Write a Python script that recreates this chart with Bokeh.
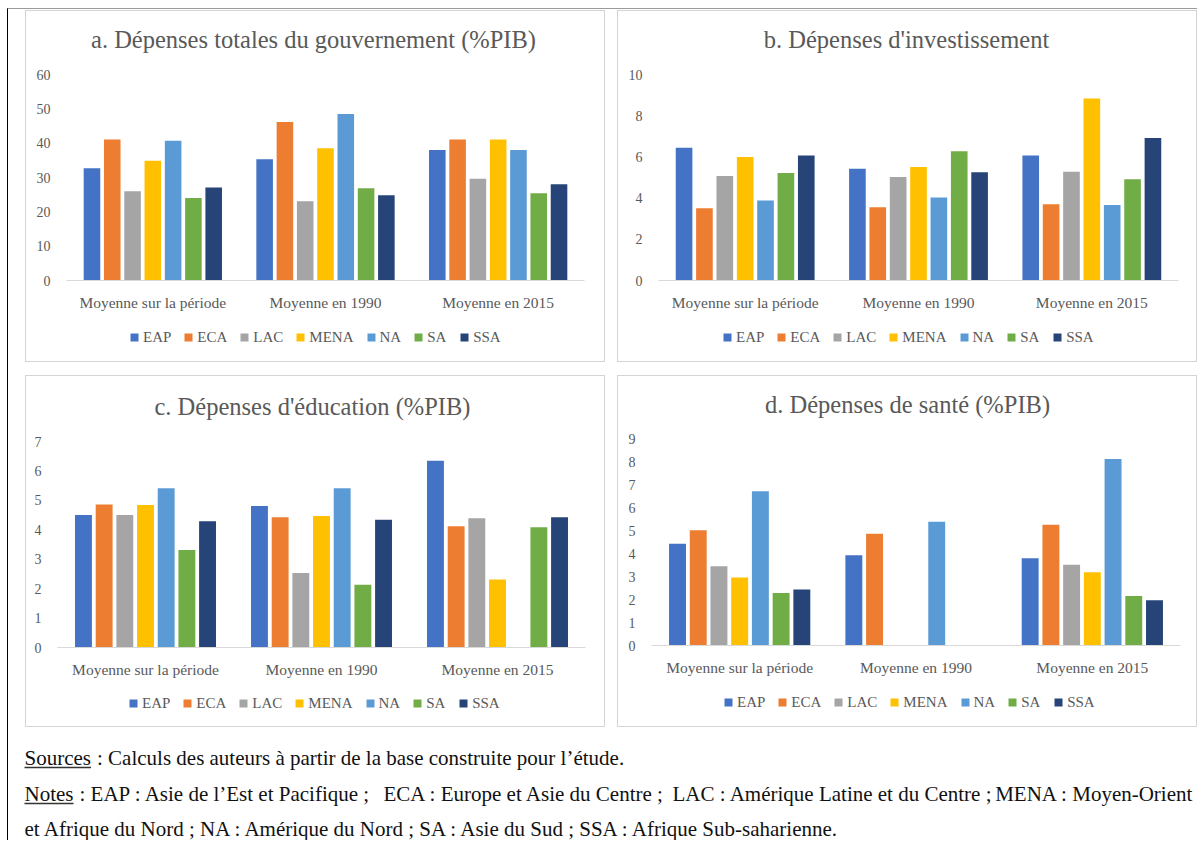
import numpy as np
from bokeh.plotting import figure
from bokeh.models import (ColumnDataSource, FactorRange, Range1d, FixedTicker,
                          Legend, LegendItem, Label, Spacer)
from bokeh.layouts import row, column
from bokeh.transform import dodge
from bokeh.embed import file_html
from bokeh.resources import INLINE

# ---------------- data ----------------
categories = ["Moyenne sur la période", "Moyenne en 1990", "Moyenne en 2015"]
regions = ["EAP", "ECA", "LAC", "MENA", "NA", "SA", "SSA"]
region_colors = ["#4472C4", "#ED7D31", "#A5A5A5", "#FFC000", "#5B9BD5", "#70AD47", "#264478"]

NAN = float("nan")

# a. Dépenses totales du gouvernement (%PIB)  -- values in region order
totales_periode = [32.7, 41.1, 26.0, 34.9, 40.7, 24.0, 27.1]
totales_1990 = [35.3, 46.2, 23.1, 38.5, 48.5, 26.9, 24.8]
totales_2015 = [38.0, 41.1, 29.6, 41.1, 38.0, 25.4, 28.0]

# b. Dépenses d'investissement
invest_periode = [6.44, 3.51, 5.07, 5.99, 3.88, 5.22, 6.07]
invest_1990 = [5.43, 3.56, 5.02, 5.51, 4.03, 6.28, 5.25]
invest_2015 = [6.07, 3.70, 5.28, 8.84, 3.66, 4.91, 6.92]

# c. Dépenses d'éducation (%PIB)
educ_periode = [4.50, 4.86, 4.50, 4.84, 5.41, 3.31, 4.29]
educ_1990 = [4.81, 4.43, 2.53, 4.47, 5.41, 2.13, 4.34]
educ_2015 = [6.35, 4.12, 4.39, 2.31, NAN, 4.09, 4.43]

# d. Dépenses de santé (%PIB)
sante_periode = [4.42, 5.01, 3.45, 2.96, 6.71, 2.28, 2.43]
sante_1990 = [3.92, 4.86, NAN, NAN, 5.38, NAN, NAN]
sante_2015 = [3.79, 5.25, 3.51, 3.19, 8.11, 2.15, 1.97]

titles = ["a. Dépenses totales du gouvernement (%PIB)",
          "b. Dépenses d'investissement",
          "c. Dépenses d'éducation (%PIB)",
          "d. Dépenses de santé (%PIB)"]

sources_text = "Calculs des auteurs à partir de la base construite pour l’étude."
notes_line1 = ["EAP : Asie de l’Est et Pacifique ;",
               "ECA : Europe et Asie du Centre ;",
               "LAC : Amérique Latine et du Centre ;",
               "MENA : Moyen-Orient"]
notes_line2 = "et Afrique du Nord ; NA : Amérique du Nord ; SA : Asie du Sud ; SSA : Afrique Sub-saharienne."

# ---------------- style ----------------
SERIF = "Liberation Serif"
GREY_TEXT = "#595959"
SLOT = 0.1175
BAR_W = 0.096
CW = 578            # inner width of a panel (border drawn outside)


def bare_figure(w, h, xr, yr):
    f = figure(width=w, height=h, x_range=xr, y_range=yr, output_backend="svg",
               toolbar_location=None, min_border=0, x_axis_type=None, y_axis_type=None,
               frame_align=False)
    f.xgrid.grid_line_color = None
    f.ygrid.grid_line_color = None
    f.outline_line_color = None
    return f


def make_panel(title, series, ymax, step, sizes, borders, title_xy, legend_xy):
    T, C, L = sizes
    bl, br, bt, bb = borders

    # --- title strip
    tf = bare_figure(CW, T, Range1d(0, CW), Range1d(T, 0))
    tf.add_layout(Label(x=title_xy[0], y=title_xy[1], text=title, text_align="center",
                        text_baseline="middle", text_font=SERIF, text_font_size="24.5px",
                        text_color=GREY_TEXT))

    # --- chart
    p = figure(width=CW, height=C, x_range=FactorRange(factors=categories),
               y_range=Range1d(0, ymax), output_backend="svg", toolbar_location=None,
               min_border_left=bl, min_border_right=br, min_border_top=bt,
               min_border_bottom=bb, frame_align=False)
    data = {"cat": categories}
    for reg, vals in zip(regions, zip(*series)):
        data[reg] = np.array(vals, dtype=float)
    src = ColumnDataSource(data)
    for i, reg in enumerate(regions):
        p.vbar(x=dodge("cat", (i - 3) * SLOT, range=p.x_range), top=reg,
               width=BAR_W, source=src, fill_color=region_colors[i], line_color=None)

    p.yaxis.ticker = FixedTicker(ticks=list(range(0, ymax + 1, step)))
    p.yaxis.axis_line_color = None
    p.yaxis.major_tick_line_color = None
    p.yaxis.minor_tick_line_color = None
    p.yaxis.major_tick_out = 0
    p.yaxis.major_tick_in = 0
    p.yaxis.major_label_standoff = 16
    p.yaxis.major_label_text_font = SERIF
    p.yaxis.major_label_text_font_size = "14px"
    p.yaxis.major_label_text_color = GREY_TEXT

    p.xaxis.axis_line_color = "#D9D9D9"
    p.xaxis.axis_line_width = 1
    p.xaxis.major_tick_line_color = None
    p.xaxis.major_tick_out = 0
    p.xaxis.major_tick_in = 0
    p.xaxis.major_label_standoff = 13
    p.xaxis.major_label_text_font = SERIF
    p.xaxis.major_label_text_font_size = "15.5px"
    p.xaxis.major_label_text_color = GREY_TEXT

    p.xgrid.grid_line_color = None
    p.ygrid.grid_line_color = None
    p.outline_line_color = None

    # --- legend strip (zero-size proxy glyphs carry the colours)
    lf = bare_figure(CW, L, Range1d(0, 1), Range1d(0, 1))
    items = []
    for i, reg in enumerate(regions):
        r = lf.vbar(x=[0.5], top=[0.0], bottom=[0.0], width=0.0,
                    fill_color=region_colors[i], line_color=None)
        items.append(LegendItem(label=reg, renderers=[r]))
    legend = Legend(items=items, orientation="horizontal", location=legend_xy,
                    glyph_width=10, glyph_height=10, label_height=14, label_standoff=4,
                    spacing=12, padding=0, margin=0, border_line_color=None,
                    background_fill_alpha=0, label_text_font=SERIF,
                    label_text_font_size="15px", label_text_color=GREY_TEXT)
    lf.add_layout(legend, "center")

    return column(tf, p, lf, styles={"border": "1px solid #D4D4D4"})


pa = make_panel(titles[0], [totales_periode, totales_1990, totales_2015], 60, 10,
                (45, 257, 48), (40, 20, 18, 32), (287, 28), (103, 15.5))
pb = make_panel(titles[1], [invest_periode, invest_1990, invest_2015], 10, 2,
                (45, 257, 48), (40, 18, 18, 32), (288, 28), (104, 15.5))
pc = make_panel(titles[2], [educ_periode, educ_1990, educ_2015], 7, 1,
                (47, 257, 46), (31, 19, 18, 33), (286, 30), (102, 14.5))
pd = make_panel(titles[3], [sante_periode, sante_1990, sante_2015], 9, 1,
                (44, 258, 48), (33, 16, 18, 32), (289, 28), (105, 15.5))

# ---------------- notes ----------------
NW, NH = 1188, 113
notes = bare_figure(NW, NH, Range1d(0, NW), Range1d(NH, 0))

NFS = 21
NOTE_KW = dict(text_font=SERIF, text_font_size=f"{NFS}px", text_color="#111111",
               text_baseline="middle")
X0 = 16
Y1, Y2, Y3 = 30, 66, 101
# line 1
notes.add_layout(Label(x=X0, y=Y1, text="Sources", **NOTE_KW))
notes.add_layout(Label(x=X0 + 3.166 * NFS + 6, y=Y1, text=": " + sources_text, **NOTE_KW))
# line 2 (justified in segments)
notes.add_layout(Label(x=X0, y=Y2, text="Notes", **NOTE_KW))
notes.add_layout(Label(x=X0 + 2.333 * NFS + 6, y=Y2, text=": " + notes_line1[0], **NOTE_KW))
notes.add_layout(Label(x=375, y=Y2, text=notes_line1[1], **NOTE_KW))
notes.add_layout(Label(x=664, y=Y2, text=notes_line1[2], **NOTE_KW))
notes.add_layout(Label(x=1185, y=Y2, text=notes_line1[3], text_align="right", **NOTE_KW))
# line 3
notes.add_layout(Label(x=X0, y=Y3, text=notes_line2, **NOTE_KW))
# underlines
notes.segment(x0=[X0, X0], y0=[Y1 + 10, Y2 + 10], x1=[X0 + 3.166 * NFS, X0 + 2.333 * NFS],
              y1=[Y1 + 10, Y2 + 10], line_color="#333333", line_width=1.3)

row1 = row(Spacer(width=17, height=10), pa, Spacer(width=12, height=10), pb)
row2 = row(Spacer(width=17, height=10), pc, Spacer(width=12, height=10), pd)
inner = column(Spacer(width=10, height=1), row1, Spacer(width=10, height=13), row2, notes,
               styles={"border-left": "1px solid #000000", "border-top": "1px solid #9A9A9A"})
layout = column(Spacer(width=10, height=8), row(Spacer(width=7, height=10), inner))

open("out.html", "w").write(file_html(layout, INLINE))
